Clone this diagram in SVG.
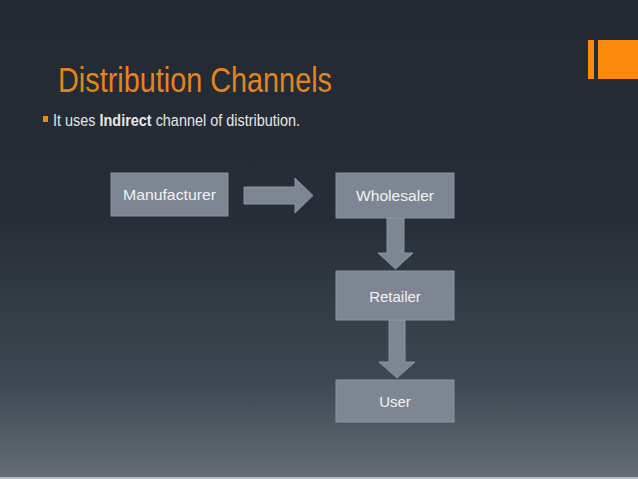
<svg xmlns="http://www.w3.org/2000/svg" width="638" height="479" viewBox="0 0 638 479">
<defs>
<linearGradient id="bg" x1="0" y1="0" x2="0" y2="1">
<stop offset="0" stop-color="#232a33"/>
<stop offset="0.45" stop-color="#262d36"/>
<stop offset="0.8" stop-color="#3f4852"/>
<stop offset="1" stop-color="#656d76"/>
</linearGradient>
<style>
.box{fill:#7e8693;stroke:#8b939f;stroke-width:1}
.lbl{font-family:"Liberation Sans",Arial,sans-serif;font-size:15px;fill:#f2f2f2;text-anchor:middle}
.arr{fill:#7e8693;stroke:#8b939f;stroke-width:1}
</style>
</defs>
<rect x="0" y="0" width="638" height="479" fill="url(#bg)"/>
<rect x="0" y="477" width="638" height="2" fill="#b8bcc2"/>
<rect x="588" y="40" width="6" height="39" fill="#fb8a0c"/>
<rect x="598" y="40" width="40" height="39" fill="#fb8a0c"/>
<text x="58" y="92" font-family="'Liberation Sans',Arial,sans-serif" font-size="35" fill="#e4841a" textLength="274" lengthAdjust="spacingAndGlyphs">Distribution Channels</text>
<rect x="43" y="116" width="5" height="6" fill="#f18a10"/>
<text x="53" y="126" font-family="'Liberation Sans',Arial,sans-serif" font-size="16" fill="#e6e6e6" textLength="247" lengthAdjust="spacingAndGlyphs">It uses <tspan font-weight="bold">Indirect</tspan> channel of distribution.</text>
<g id="connectors">
<polygon class="arr" points="244,187 295,187 295,178 313,195.5 295,213 295,204 244,204"/>
<polygon class="arr" points="387,218 404,218 404,253 413,253 395.5,269 378,253 387,253"/>
<polygon class="arr" points="389,320 405,320 405,362 415,362 397,378 379,362 389,362"/>
</g>
<g id="manufacturer"><rect class="box" x="111" y="173" width="117" height="43"/><text class="lbl" x="169.5" y="200" textLength="93" lengthAdjust="spacingAndGlyphs">Manufacturer</text></g>
<g id="wholesaler"><rect class="box" x="336" y="173" width="118" height="45"/><text class="lbl" x="395" y="201" textLength="78" lengthAdjust="spacingAndGlyphs">Wholesaler</text></g>
<g id="retailer"><rect class="box" x="336" y="271" width="118" height="49"/><text class="lbl" x="395" y="302">Retailer</text></g>
<g id="user"><rect class="box" x="336" y="380" width="118" height="42"/><text class="lbl" x="395" y="407">User</text></g>
</svg>
